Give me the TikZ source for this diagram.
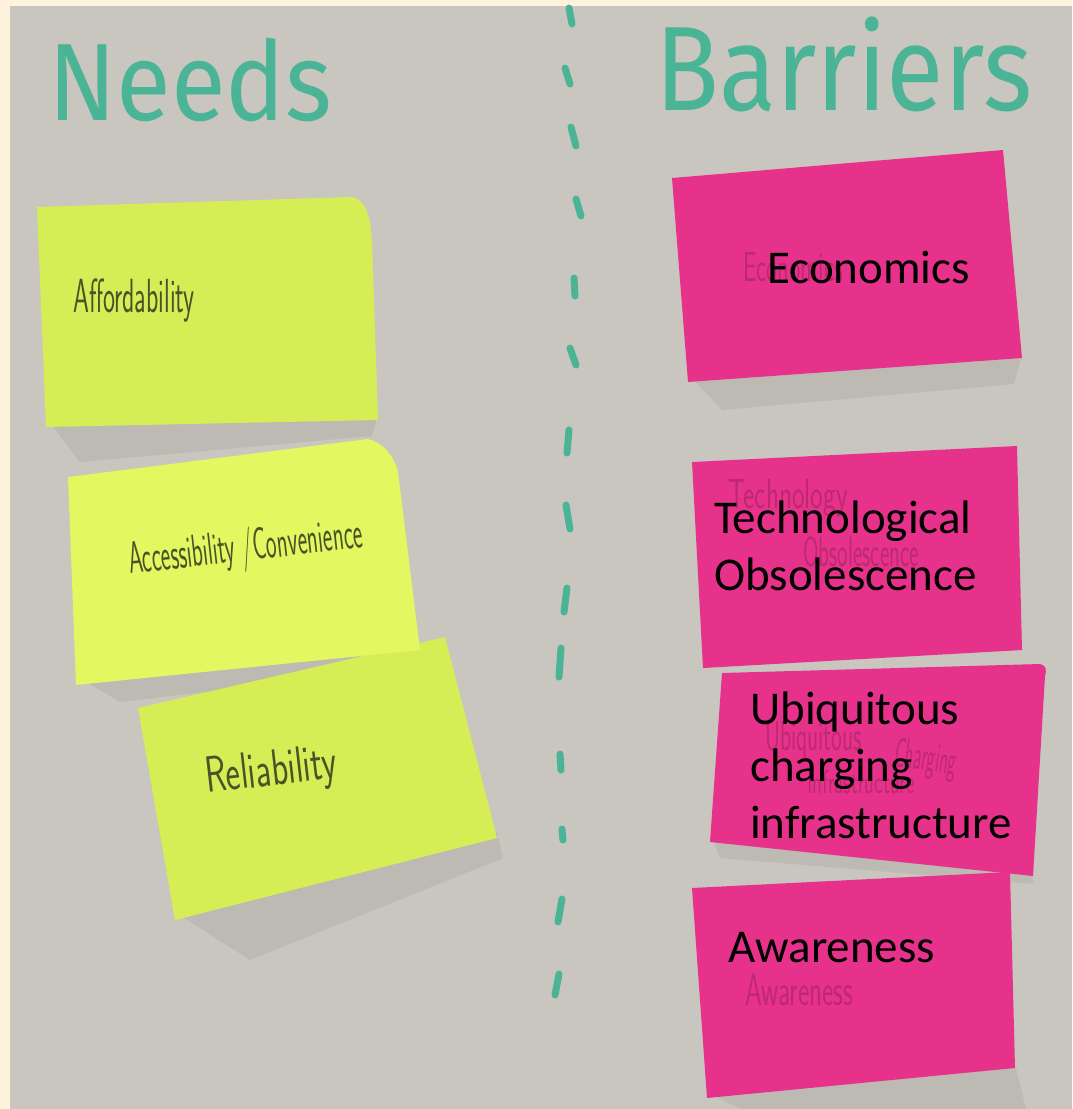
\documentclass[tikz,border=0pt]{standalone}
\usepackage{fontspec}
\setmainfont{Carlito}
\newfontfamily\markerfont{Fira Sans}
\usetikzlibrary{positioning}

\definecolor{frame}{RGB}{255,242,220}
\definecolor{board}{RGB}{201,197,191}
\definecolor{marker}{RGB}{76,180,150}
\definecolor{lime}{RGB}{214,238,86}
\definecolor{limelight}{RGB}{226,247,96}
\definecolor{postpink}{RGB}{231,50,140}
\definecolor{pencil}{RGB}{72,84,40}

\begin{document}
\begin{tikzpicture}[x=1pt,y=-1pt,
  yellownote/.style={fill=lime},
  pinknote/.style={fill=postpink},
  noteshadow/.style={fill=black,opacity=.06},
  title/.style={text=marker,font=\markerfont\fontsize{100}{100}\selectfont,anchor=base west,inner sep=0},
  typed/.style={font=\fontsize{47}{57}\selectfont,anchor=base west,inner sep=0},
  scrawl/.style={text=pencil,font=\sffamily\fontsize{30}{34}\selectfont,anchor=base west,inner sep=0},
  faint/.style={text=black,opacity=.18,font=\sffamily\fontsize{30}{34}\selectfont,anchor=base west,inner sep=0},
  divider/.style={marker,line width=7,line cap=round}]

% frame and board
\fill[frame] (0,0) rectangle (1072,1109);
\fill[board] (10,6) rectangle (1072,1109);

% column titles
\node[title] (needs) at (48,120) {\scalebox{1}[1.1]{Needs}};
\node[title] (barriers) at (655,110) {\scalebox{1.05}[1.2]{Barriers}};

% dashed divider
\foreach \xa/\ya/\xb/\yb in {569/8/572/24, 565/68/570/84, 571/127/576/146, 576/199/581/216,
    574/278/575/296, 570/348/576/365, 569/430/567/453, 566/505/570/529, 567/588/564/612,
    561/648/559/677, 560/754/561/770, 562/829/563/840, 562/899/558/922, 559/974/555/995}
  \draw[divider] (\xa,\ya) -- (\xb,\yb);

% shadows
\fill[noteshadow] (48,420) -- (378,414) -- (372,436) -- (80,462) -- cycle;
\fill[noteshadow] (80,678) -- (420,644) -- (428,666) -- (120,702) -- cycle;
\fill[noteshadow] (178,914) -- (497,832) -- (503,858) -- (250,960) -- cycle;
\fill[noteshadow] (690,376) -- (1022,354) -- (1014,384) -- (722,410) -- cycle;
\fill[noteshadow] (712,838) -- (1030,870) -- (1034,884) -- (720,858) -- cycle;
\fill[noteshadow] (708,1092) -- (1015,1064) -- (1026,1109) -- (740,1109) -- cycle;

% needs notes
\fill[yellownote] (37,207) -- (352,197) .. controls (364,199) and (370,212) .. (372,240)
  -- (378,420) -- (46,427) -- cycle;
\fill[yellownote] (138,708) -- (445,637) -- (497,838) -- (175,920) -- cycle;
\fill[limelight] (68,477) -- (368,439) .. controls (382,442) and (394,455) .. (398,472)
  -- (420,650) -- (76,685) -- cycle;

% barrier notes
\fill[pinknote] (672,178) -- (1003,150) -- (1022,358) -- (688,382) -- cycle;
\fill[pinknote] (722,673) -- (1040,664) .. controls (1046,665) and (1047,670) .. (1045,676)
  -- (1033,876) -- (710,842) -- cycle;
\fill[pinknote] (692,462) -- (1017,446) -- (1022,650) -- (703,668) -- cycle;
\fill[pinknote] (692,888) -- (1010,872) -- (1015,1068) -- (707,1098) -- cycle;

% handwriting on the needs
\node[scrawl] (afford) at (73,312) {\scalebox{.85}[1.6]{Affordability}};
\node[scrawl,rotate=6.5] (access) at (130,574) {\scalebox{.76}[1.5]{Accessibility /Convenience}};
\node[scrawl,rotate=6.5] (reliab) at (207,793) {\scalebox{1.15}[1.7]{Reliability}};

% faint handwriting on the barriers
\node[faint] (econhand) at (743,281) {\scalebox{.8}[1.4]{Economics}};
\node[faint] (techhand) at (728,508) {\scalebox{.9}[1.4]{Technology}};
\node[faint] (obsohand) at (803,566) {\scalebox{.75}[1.4]{Obsolescence}};
\node[faint] (ubihand) at (765,750) {\scalebox{.77}[1.4]{Ubiquitous}};
\node[faint,rotate=-8] (charhand) at (893,766) {\scalebox{.6}[1.4]{Charging}};
\node[faint] (infrahand) at (807,793) {\scalebox{.68}[1.1]{Infrastructure}};
\node[faint] (awarehand) at (745,1005) {\scalebox{.9}[1.5]{Awareness}};

% typed labels
\node[typed] (econ) at (767,283) {Economics};
\node[typed] (tech) at (714,533) {Technological};
\node[typed] (obso) at (714,590) {Obsolescence};
\node[typed] (ubi) at (750,724) {Ubiquitous};
\node[typed] (charging) at (750,781) {charging};
\node[typed] (infra) at (750,838) {infrastructure};
\node[typed] (aware) at (728,962) {Awareness};
\end{tikzpicture}
\end{document}
